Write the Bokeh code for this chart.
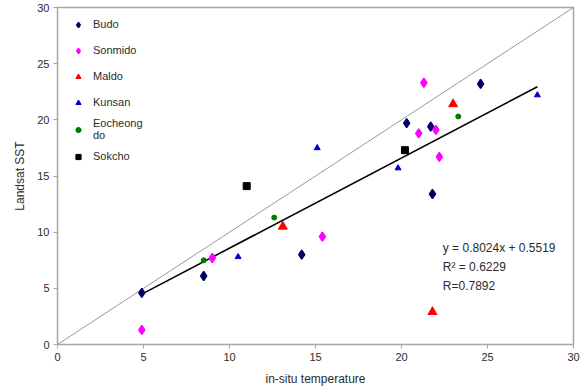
from bokeh.plotting import figure
from bokeh.models import Legend, LegendItem, Range1d, FixedTicker
from bokeh.core.properties import value
from bokeh.embed import file_html
from bokeh.resources import INLINE

# ---- data ----
budo_x = [4.9, 8.5, 14.2, 20.3, 21.7, 21.8, 24.6]
budo_y = [4.6, 6.1, 8.0, 19.7, 19.4, 13.4, 23.2]

sonmido_x = [4.9, 9.0, 15.4, 21.0, 21.3, 22.0, 22.2]
sonmido_y = [1.3, 7.7, 9.6, 18.8, 23.3, 19.1, 16.7]

maldo_x = [13.1, 21.8, 23.0]
maldo_y = [10.5, 2.9, 21.4]

kunsan_x = [10.5, 15.1, 19.8, 27.9]
kunsan_y = [7.8, 17.5, 15.7, 22.2]

eocheong_x = [8.5, 12.6, 23.3]
eocheong_y = [7.5, 11.3, 20.3]

sokcho_x = [11.0, 20.2]
sokcho_y = [14.1, 17.3]

ticks = [0, 5, 10, 15, 20, 25, 30]
slope, intercept = 0.8024, 0.5519
eq_lines = ["y = 0.8024x + 0.5519", "R\u00b2 = 0.6229", "R=0.7892"]

FONT = "Liberation Sans"
TXT = "#2b2b2b"
GRAY = "#a6a6a6"

p = figure(width=582, height=390, output_backend="svg", toolbar_location=None,
           x_range=Range1d(0, 30), y_range=Range1d(0, 30),
           min_border_left=57, min_border_right=9, min_border_top=7, min_border_bottom=46)
p.grid.visible = False
p.outline_line_color = GRAY
p.outline_line_width = 1.5
p.background_fill_color = "white"
p.border_fill_color = "white"

for ax in (p.xaxis[0], p.yaxis[0]):
    ax.ticker = FixedTicker(ticks=ticks)
    ax.axis_line_color = GRAY
    ax.major_tick_line_color = GRAY
    ax.major_tick_out = 4
    ax.major_tick_in = 0
    ax.minor_tick_line_color = None
    ax.major_label_text_font = FONT
    ax.major_label_text_font_size = "11px"
    ax.major_label_text_color = TXT
    ax.major_label_standoff = 4
    ax.axis_label_text_font = FONT
    ax.axis_label_text_font_size = "12px"
    ax.axis_label_text_font_style = "normal"
    ax.axis_label_text_color = TXT

p.xaxis.axis_label = "in-situ temperature"
p.xaxis.axis_label_standoff = 8
p.yaxis.axis_label = "Landsat SST"
p.yaxis.axis_label_standoff = 7

# 1:1 line
p.line(x=[ticks[0], ticks[-1]], y=[ticks[0], ticks[-1]], line_color="#999999", line_width=1)

# trendline
all_x = budo_x + sonmido_x + maldo_x + kunsan_x + eocheong_x + sokcho_x
x0, x1 = min(all_x), max(all_x)
p.line(x=[x0, x1], y=[slope * x0 + intercept, slope * x1 + intercept],
       line_color="black", line_width=1.6)

r_budo = p.scatter(budo_x, budo_y, marker="diamond", size=9, fill_color="#000066", line_color="#000066", line_width=1.5)
r_son = p.scatter(sonmido_x, sonmido_y, marker="diamond", size=9, fill_color="#ff00ff", line_color="#ff00ff", line_width=1.5)
r_mal = p.scatter(maldo_x, maldo_y, marker="triangle", size=9, fill_color="#ff0000", line_color="#ff0000")
r_kun = p.scatter(kunsan_x, kunsan_y, marker="triangle", size=6, fill_color="#0000cc", line_color="#0000cc")
r_eoc = p.scatter(eocheong_x, eocheong_y, marker="circle", size=5, fill_color="#007a00", line_color="#007a00")
r_sok = p.scatter(sokcho_x, sokcho_y, marker="square", size=7, fill_color="black", line_color="black")

# regression text
tx = 22.4
ty0 = 8.55
step = 1.65
p.text(x=[tx] * len(eq_lines), y=[ty0 - i * step for i in range(len(eq_lines))], text=eq_lines,
       text_font=value(FONT), text_font_size="12px", text_color=TXT,
       text_baseline="middle", text_align="left")

legend = Legend(items=[
    LegendItem(label="Budo", renderers=[r_budo]),
    LegendItem(label="Sonmido", renderers=[r_son]),
    LegendItem(label="Maldo", renderers=[r_mal]),
    LegendItem(label="Kunsan", renderers=[r_kun]),
    LegendItem(label="Eocheong\ndo", renderers=[r_eoc]),
    LegendItem(label="Sokcho", renderers=[r_sok]),
], location="top_left", orientation="vertical")
legend.label_text_font = FONT
legend.label_text_font_size = "11px"
legend.label_text_color = TXT
legend.label_height = 22
legend.glyph_height = 13
legend.glyph_width = 30
legend.spacing = 4
legend.label_standoff = -10
legend.padding = 4
legend.margin = 6
legend.border_line_color = None
legend.background_fill_alpha = 0
p.add_layout(legend)

open("out.html", "w").write(file_html(p, INLINE))
